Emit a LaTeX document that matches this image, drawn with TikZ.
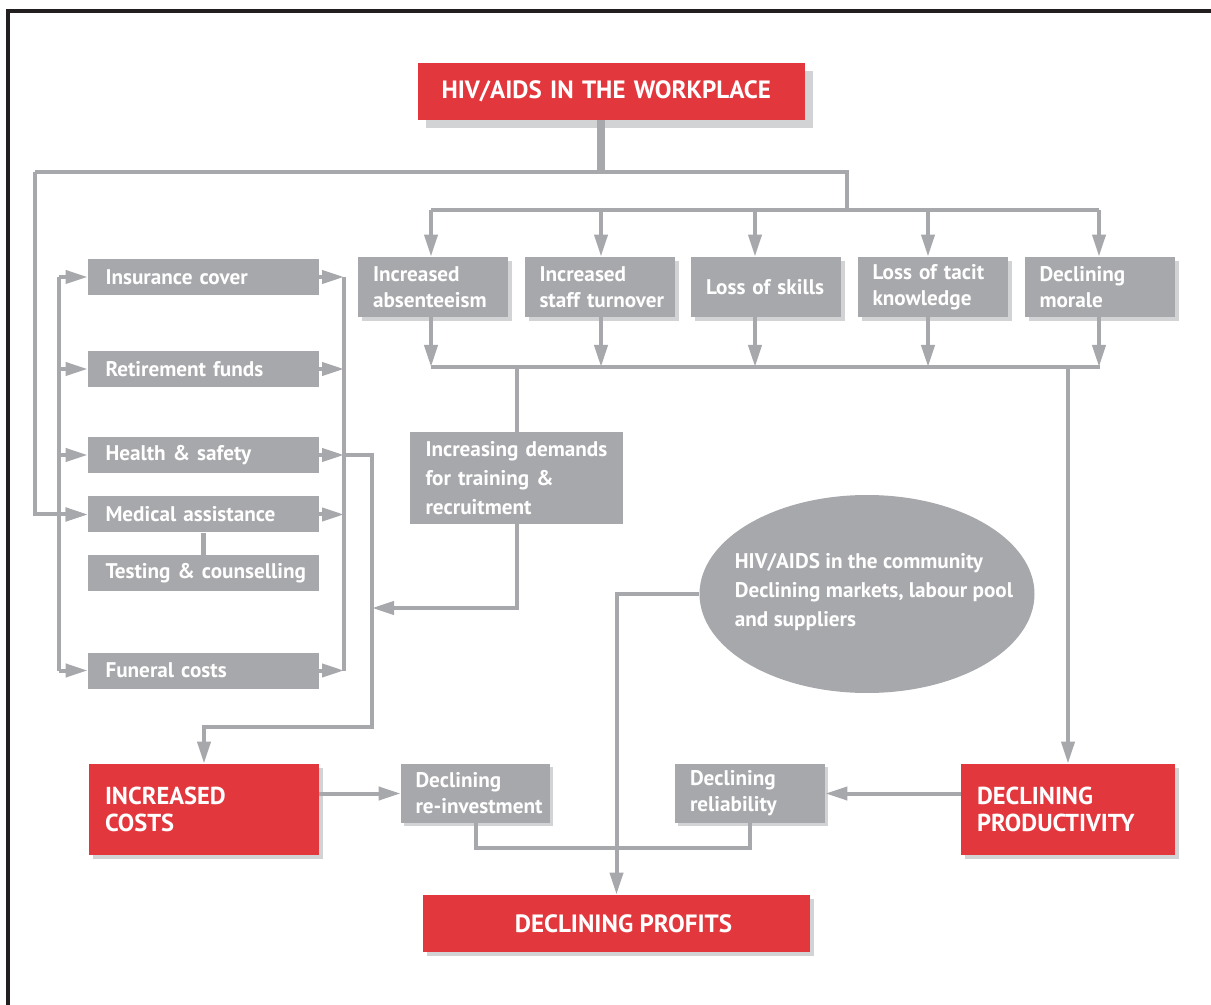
\documentclass[tikz,border=0pt]{standalone}
\usepackage{fontspec}
\setmainfont{PT Sans}
\usetikzlibrary{arrows.meta,shapes.geometric,calc}
\definecolor{hred}{HTML}{E3373E}
\definecolor{hgray}{HTML}{A7A8AB}
\definecolor{hshadow}{HTML}{D1D3D4}
\definecolor{hframe}{HTML}{231F20}
\hyphenpenalty=10000
\exhyphenpenalty=10000
\begin{document}
\begin{tikzpicture}[x=0.5pt,y=-0.5pt,
  hbase/.style={inner ysep=0pt, inner xsep=0pt, align=left, text=white, anchor=center,
    font=\bfseries\fontsize{10.6}{13}\selectfont,
    execute at begin node={\hyphenpenalty=10000\exhyphenpenalty=10000}},
  gbox/.style={hbase, fill=hgray},
  rbox/.style={hbase, fill=hred, font=\bfseries\fontsize{12.25}{13.5}\selectfont},
  shad/.style={preaction={fill=hshadow, transform canvas={shift={(#1,#1)}}}},
  conn/.style={draw=hgray, line width=2pt},
  arr/.style={conn, -{Triangle[length=11pt,width=6.5pt]}}
]
\useasboundingbox (0,0) rectangle (1211,1005);
\draw[hframe, line width=1.6pt] (8,1005) -- (8,11) -- (1211,11);

% title
\node[rbox, shad=8, minimum width=193.5pt, minimum height=28.5pt, text width=170pt,
  font=\bfseries\fontsize{12.5}{14}\selectfont] (T) at (611.5,91.5) {HIV/AIDS~IN~THE~WORKPLACE};

% second row
\node[gbox, shad=4, minimum width=75pt, minimum height=30pt, text width=60pt] (abs) at (433,287) {Increased\\absenteeism};
\node[gbox, shad=4, minimum width=75pt, minimum height=30pt, text width=60pt] (turn) at (599.5,287) {Increased\\\mbox{staff turnover}};
\node[gbox, shad=4, minimum width=75pt, minimum height=30pt, text width=60pt] (skills) at (766,287) {\mbox{Loss of skills}};
\node[gbox, shad=4, minimum width=75pt, minimum height=30pt, text width=60pt] (tacit) at (932.5,287) {\mbox{Loss of tacit}\\knowledge};
\node[gbox, shad=4, minimum width=75pt, minimum height=30pt, text width=60pt] (morale) at (1099.5,287) {Declining\\morale};

% left column
\node[gbox, minimum width=115.5pt, minimum height=18pt, text width=98pt] (ins) at (203.5,277) {\mbox{Insurance cover}};
\node[gbox, minimum width=115.5pt, minimum height=18pt, text width=98pt] (ret) at (203.5,369) {\mbox{Retirement funds}};
\node[gbox, minimum width=115.5pt, minimum height=18pt, text width=98pt] (hs) at (203.5,455) {\mbox{Health \& safety}};
\node[gbox, minimum width=115.5pt, minimum height=18pt, text width=98pt] (med) at (203.5,514.5) {\mbox{Medical assistance}};
\node[gbox, minimum width=115.5pt, minimum height=18pt, text width=98pt] (test) at (203.5,573) {\mbox{Testing \& counselling}};
\node[gbox, minimum width=115.5pt, minimum height=18pt, text width=98pt] (fun) at (203.5,670.5) {\mbox{Funeral costs}};

% demands
\node[gbox, minimum width=106.5pt, minimum height=46pt, text width=91pt,
  font=\bfseries\fontsize{10.6}{14.5}\selectfont] (dem) at (516.5,478) {\mbox{Increasing demands}\\\mbox{for training \&}\\recruitment};

% community ellipse
\node[ellipse, fill=hgray, minimum width=167.5pt, minimum height=99pt, inner sep=0pt] (ell) at (867,594) {};
\node[hbase, font=\bfseries\fontsize{10.6}{14.5}\selectfont] (ellt) at (874,592) {HIV/AIDS in the community\\Declining markets, labour pool\\and suppliers};

% bottom row
\node[rbox, shad=4, minimum width=115pt, minimum height=45.5pt, text width=99pt] (costs) at (204,809.5) {INCREASED\\COSTS};
\node[gbox, shad=3, minimum width=74.5pt, minimum height=29.5pt, text width=60pt] (rein) at (475.5,793.5) {Declining\\\mbox{re-investment}};
\node[gbox, shad=3, minimum width=75pt, minimum height=29.5pt, text width=60pt] (rel) at (750,793.5) {Declining\\reliability};
\node[rbox, shad=4, minimum width=107pt, minimum height=45.5pt, text width=91pt] (prod) at (1068,809.5) {DECLINING\\PRODUCTIVITY};
\node[rbox, shad=4, minimum width=193.5pt, minimum height=28.5pt, align=center,
  font=\bfseries\fontsize{12.5}{14}\selectfont] (prof) at (616.5,923.5) {\hspace*{7pt}DECLINING PROFITS};

% coordinates
\coordinate (j0) at (601,172);
\coordinate (jl) at (35,172);
\coordinate (jr) at (847,172);
\coordinate (jr2) at (847,210);
\coordinate (b1) at (431,210);
\coordinate (b2) at (601,210);
\coordinate (b3) at (755,210);
\coordinate (b4) at (928,210);
\coordinate (b5) at (1099,210);
\coordinate (c1) at (431,367);
\coordinate (c5) at (1100,367);
\coordinate (cd) at (516.5,367);
\coordinate (cp) at (1068,367);
\coordinate (ddend) at (372,608);
\coordinate (lb1) at (59,277);
\coordinate (lb2) at (59,670.5);
\coordinate (rb1) at (344,277);
\coordinate (rb2) at (344,670.5);
\coordinate (h1) at (372,455);
\coordinate (h2) at (372,727);

% connectors
\draw[conn, line width=4pt] (T.south -| j0) -- (j0);
\draw[conn] (jl) -- (jr) -- (jr2);
\draw[conn] (b1) -- (b5);
\foreach \b/\n in {b1/abs,b2/turn,b3/skills,b4/tacit,b5/morale}{
  \draw[arr] (\b) -- (\b |- \n.north);
  \draw[arr] (\b |- \n.south) -- (\b |- c1);
}
\draw[conn] (c1) -- (c5);
\draw[conn] (cd) -- (dem.north);
\draw[arr] (dem.south) |- (ddend);
\draw[arr] (cp) -- (prod.north);

\draw[arr] (jl) |- (med.west);
\draw[conn] (lb1) -- (lb2);
\draw[conn] (rb1) -- (rb2);
\foreach \n in {ins,ret,hs,med,fun}{
  \draw[arr] (lb1 |- \n.west) -- (\n.west);
  \draw[arr] (\n.east) -- (rb1 |- \n.east);
}
\draw[conn, line width=2.5pt] (med.south) -- (test.north);
\draw[arr] (rb1 |- hs.east) -- (h1) -- (h2) -| (costs.north);

\draw[arr] (costs.east |- rein.west) -- (rein.west);
\draw[arr] (prod.west |- rel.east) -- (rel.east);
\draw[conn] (rein.south) -- ++(0,25) -| (rel.south);
\draw[arr] (ell.west) -| (prof.north);
\end{tikzpicture}
\end{document}
